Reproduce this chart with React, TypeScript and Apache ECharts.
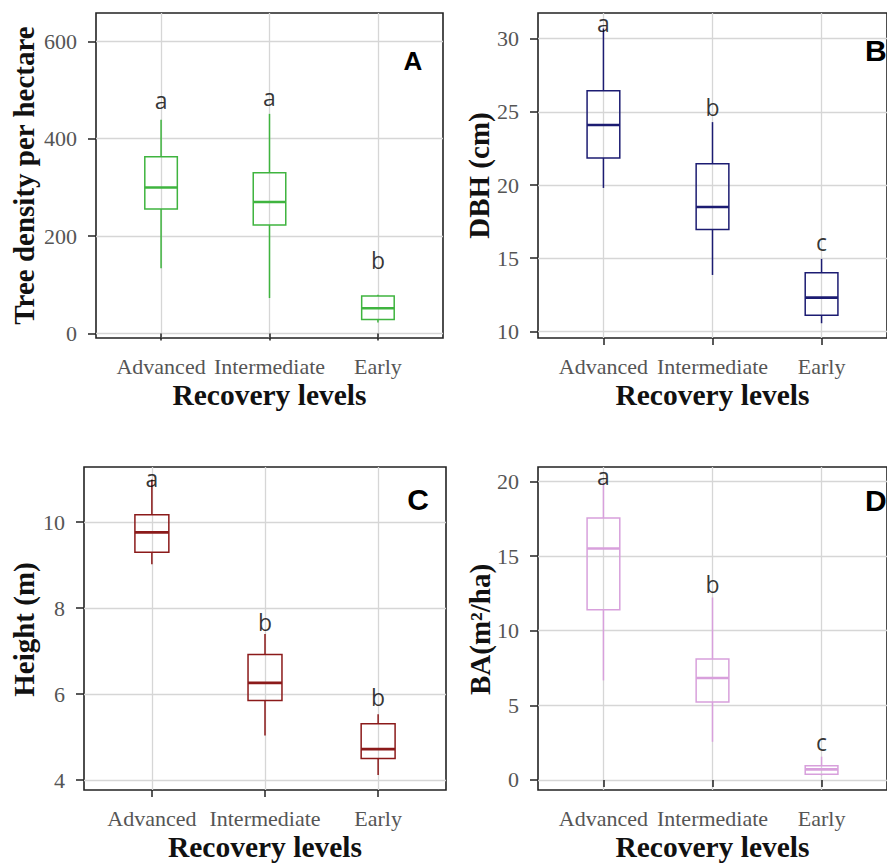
import React, { useEffect, useRef } from "react";
import * as echarts from "echarts";

// ---------- data ----------
const categories = ["Advanced", "Intermediate", "Early"];

// [min, Q1, median, Q3, max] per category
const densityStats = [
  [134, 256, 300, 363, 439],
  [73, 223, 270, 330, 451],
  [23, 29, 52, 77, 80],
];
const dbhStats = [
  [19.8, 21.85, 24.1, 26.45, 30.7],
  [13.85, 16.95, 18.5, 21.45, 24.3],
  [10.55, 11.1, 12.3, 14.0, 14.95],
];
const heightStats = [
  [9.02, 9.3, 9.76, 10.17, 10.99],
  [5.04, 5.85, 6.26, 6.92, 7.4],
  [4.12, 4.5, 4.72, 5.31, 5.53],
];
const baStats = [
  [6.67, 11.4, 15.5, 17.55, 19.9],
  [2.56, 5.23, 6.83, 8.11, 12.22],
  [0.3, 0.38, 0.71, 0.96, 1.56],
];

// significance letters and the value at which they are drawn
const densityLetters = ["a", "a", "b"];
const densityLetterY = [480, 486, 151];
const dbhLetters = ["a", "b", "c"];
const dbhLetterY = [31.1, 25.36, 16.08];
const heightLetters = ["a", "b", "b"];
const heightLetterY = [11.03, 7.68, 5.94];
const baLetters = ["a", "b", "c"];
const baLetterY = [20.33, 13.11, 2.56];

// y tick values
const densityTicks = [0, 200, 400, 600];
const dbhTicks = [10, 15, 20, 25, 30];
const heightTicks = [4, 6, 8, 10];
const baTicks = [0, 5, 10, 15, 20];

const yTitles = ["Tree density per hectare", "DBH (cm)", "Height (m)", "BA(m²/ha)"];
const xTitle = "Recovery levels";
const panelTags = ["A", "B", "C", "D"];

// ---------- layout / style ----------
const panels = [
  {
    stats: densityStats, letters: densityLetters, letterY: densityLetterY, ticks: densityTicks,
    color: "#3fb43f", grid: { left: 96, top: 13, width: 347, height: 325 }, yMin: -9, yMax: 658,
    titleX: 24, tag: { x: 413, y: 61, size: 26, align: "center" },
  },
  {
    stats: dbhStats, letters: dbhLetters, letterY: dbhLetterY, ticks: dbhTicks,
    color: "#1c1c72", grid: { left: 538, top: 13, width: 363, height: 325 }, yMin: 9.54, yMax: 31.76,
    titleX: 479, tag: { x: 865, y: 50, size: 30, align: "left" },
  },
  {
    stats: heightStats, letters: heightLetters, letterY: heightLetterY, ticks: heightTicks,
    color: "#8b1a1a", grid: { left: 84, top: 467, width: 362, height: 325 }, yMin: 3.77, yMax: 11.28,
    titleX: 24, tag: { x: 418, y: 499, size: 30, align: "center" },
  },
  {
    stats: baStats, letters: baLetters, letterY: baLetterY, ticks: baTicks,
    color: "#d8a0dc", grid: { left: 538, top: 467, width: 363, height: 325 }, yMin: -0.67, yMax: 20.96,
    titleX: 480, tag: { x: 865, y: 500, size: 30, align: "left" },
  },
];

const serif = "Liberation Serif";
const tickColor = "#222";
const labelColor = "#555555";
const gridLineColor = "#d6d6d6";

export default function App() {
  const ref = useRef<HTMLDivElement>(null);

  useEffect(() => {
    if (!ref.current) return;
    const chart = echarts.init(ref.current, undefined, { renderer: "svg" });

    const grid: any[] = [];
    const xAxis: any[] = [];
    const yAxis: any[] = [];
    const series: any[] = [];
    const graphic: any[] = [];

    panels.forEach((p, i) => {
      grid.push({
        ...p.grid,
        show: true,
        borderColor: "#222",
        borderWidth: 1.6,
        backgroundColor: "transparent",
        containLabel: false,
      });
      xAxis.push({
        type: "value",
        gridIndex: i,
        min: 0.4,
        max: 3.6,
        axisLine: { show: false },
        axisTick: {
          show: true,
          customValues: [1, 2, 3],
          length: 7,
          lineStyle: { color: tickColor, width: 1.5 },
        },
        axisLabel: {
          customValues: [1, 2, 3],
          formatter: (v: number) => categories[Math.round(v) - 1] ?? "",
          margin: 17,
          fontFamily: serif,
          fontSize: 22,
          color: labelColor,
        },
        splitLine: { show: true, lineStyle: { color: gridLineColor, width: 1.3 } },
        name: xTitle,
        nameLocation: "middle",
        nameGap: 42,
        nameTextStyle: { fontFamily: serif, fontWeight: "bold", fontSize: 29.5, color: "#111" },
      });
      yAxis.push({
        type: "value",
        gridIndex: i,
        min: p.yMin,
        max: p.yMax,
        axisLine: { show: false },
        axisTick: {
          show: true,
          customValues: p.ticks,
          length: 8,
          lineStyle: { color: tickColor, width: 1.5 },
        },
        axisLabel: {
          customValues: p.ticks,
          margin: 19,
          fontFamily: serif,
          fontSize: 22,
          color: labelColor,
        },
        splitLine: { show: true, lineStyle: { color: gridLineColor, width: 1.3 } },
      });

      const color = p.color;
      series.push({
        type: "custom",
        xAxisIndex: i,
        yAxisIndex: i,
        data: p.stats.map((s, k) => [k + 1, ...s]),
        encode: { x: 0, y: [1, 2, 3, 4, 5] },
        renderItem: (params: any, api: any) => {
          const x = api.value(0);
          const lo = api.coord([x, api.value(1)]);
          const q1 = api.coord([x, api.value(2)]);
          const med = api.coord([x, api.value(3)]);
          const q3 = api.coord([x, api.value(4)]);
          const hi = api.coord([x, api.value(5)]);
          const w = api.size([1, 0])[0] * 0.3;
          const stroke = { stroke: color, lineWidth: 1.5, fill: "none" };
          return {
            type: "group",
            children: [
              { type: "line", shape: { x1: hi[0], y1: hi[1], x2: q3[0], y2: q3[1] }, style: stroke },
              { type: "line", shape: { x1: q1[0], y1: q1[1], x2: lo[0], y2: lo[1] }, style: stroke },
              {
                type: "rect",
                shape: { x: q3[0] - w / 2, y: q3[1], width: w, height: q1[1] - q3[1] },
                style: { stroke: color, lineWidth: 1.5, fill: "rgba(255,255,255,0)" },
              },
              {
                type: "line",
                shape: { x1: med[0] - w / 2, y1: med[1], x2: med[0] + w / 2, y2: med[1] },
                style: { stroke: color, lineWidth: 2.6 },
              },
            ],
          };
        },
        silent: true,
        z: 3,
      });
      series.push({
        type: "scatter",
        xAxisIndex: i,
        yAxisIndex: i,
        symbolSize: 0,
        data: p.letterY.map((v, k) => [k + 1, v]),
        label: {
          show: true,
          position: "inside",
          formatter: (d: any) => p.letters[d.dataIndex],
          fontFamily: "Open Sans",
          fontSize: 23,
          color: "#000",
        },
        silent: true,
        z: 4,
      });

      const cy = p.grid.top + p.grid.height / 2;
      graphic.push({
        type: "text",
        x: p.titleX,
        y: cy,
        rotation: Math.PI / 2,
        style: {
          text: yTitles[i],
          fontFamily: serif,
          fontWeight: "bold",
          fontSize: 29,
          fill: "#111",
          align: "center",
          verticalAlign: "middle",
        },
      });
      graphic.push({
        type: "text",
        x: p.tag.x,
        y: p.tag.y,
        style: {
          text: panelTags[i],
          fontFamily: "Liberation Sans",
          fontWeight: "bold",
          fontSize: p.tag.size,
          fill: "#000",
          align: p.tag.align,
          verticalAlign: "middle",
        },
      });
    });

    chart.setOption({
      animation: false,
      backgroundColor: "#ffffff",
      textStyle: { fontFamily: serif },
      grid,
      xAxis,
      yAxis,
      series,
      graphic,
    });

    return () => chart.dispose();
  }, []);

  return (
    <div
      ref={ref}
      style={{ position: "absolute", left: 0, top: 0, width: 887, height: 863 }}
    />
  );
}
